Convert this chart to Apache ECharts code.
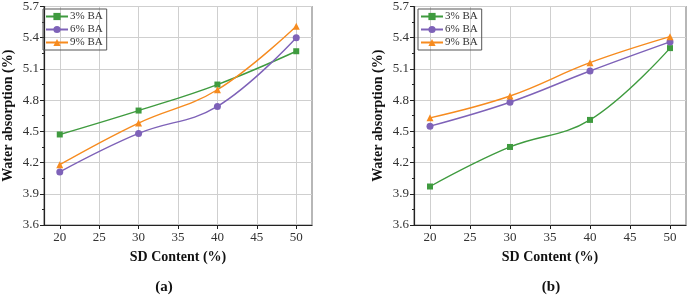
<!DOCTYPE html>
<html>
<head>
<meta charset="utf-8">
<script src="https://cdn.jsdelivr.net/npm/echarts@6/dist/echarts.min.js"></script>
<style>
  html, body { margin: 0; padding: 0; background: #fff; }
  #chart { width: 689px; height: 295px; }
</style>
</head>
<body>
<div id="chart"></div>
<script>
  // SD content (%) on the x axis
  var sdContent = [20, 30, 40, 50]
  var xTicks = [20, 25, 30, 35, 40, 45, 50]
  var seriesNames = ['3% BA', '6% BA', '9% BA']

  // panel (a)
  var a_ba3 = [4.47, 4.70, 4.95, 5.27]
  var a_ba6 = [4.11, 4.48, 4.74, 5.40]
  var a_ba9 = [4.18, 4.58, 4.90, 5.51]

  // panel (b)
  var b_ba3 = [3.97, 4.35, 4.61, 5.30]
  var b_ba6 = [4.55, 4.78, 5.08, 5.36]
  var b_ba9 = [4.63, 4.84, 5.16, 5.41]

  var colors = ['#3f9b3f', '#7e62b8', '#f68b1f']
  var symbols = ['rect', 'circle', 'triangle']
  var font = '"Liberation Serif", "DejaVu Serif", serif'

  function pairs(vals){
    return sdContent.map((x, i) => [x, vals[i]])
  }

  function xAxis(idx){
    return {
      type: 'value', gridIndex: idx, min: 18, max: 52,
      name: 'SD Content (%)', nameLocation: 'middle', nameGap: 25,
      nameTextStyle: { fontFamily: font, fontWeight: 'bold', fontSize: 14, color: '#111' },
      axisLine: { onZero: false, lineStyle: { color: '#222', width: 1.2 } },
      axisTick: { customValues: xTicks, length: 4, lineStyle: { color: '#222' } },
      axisLabel: { customValues: xTicks, fontFamily: font, fontSize: 13, color: '#333', margin: 6 },
      splitLine: { show: true, lineStyle: { color: '#cfcfcf', width: 1 } }
    }
  }

  function yAxis(idx){
    return {
      type: 'value', gridIndex: idx, min: 3.6, max: 5.7, interval: 0.3,
      name: 'Water absorption (%)', nameLocation: 'middle', nameGap: 29,
      nameTextStyle: { fontFamily: font, fontWeight: 'bold', fontSize: 14, color: '#111' },
      axisLine: { lineStyle: { color: '#222', width: 1.2 } },
      axisTick: { length: 4, lineStyle: { color: '#222' } },
      minorTick: { show: true, splitNumber: 2, length: 2, lineStyle: { color: '#222' } },
      axisLabel: { fontFamily: font, fontSize: 13, color: '#333', margin: 5,
        formatter: v => v.toFixed(1) },
      splitLine: { show: true, lineStyle: { color: '#cfcfcf', width: 1 } }
    }
  }

  function legend(left){
    return {
      left: left, top: 9, orient: 'vertical',
      data: seriesNames,
      itemWidth: 22, itemHeight: 9, itemGap: 2,
      padding: [2, 4, 2, 2],
      borderColor: '#555', borderWidth: 1,
      textStyle: { fontFamily: font, fontSize: 11, color: '#333', padding: [0, 0, 0, -3] }
    }
  }

  function lineSeries(name, idx, vals, k){
    return {
      type: 'line', name: name, xAxisIndex: idx, yAxisIndex: idx,
      data: pairs(vals), smooth: 0.4,
      symbol: symbols[k], symbolSize: k == 0 ? 6 : 7,
      itemStyle: { color: colors[k] },
      lineStyle: { color: colors[k], width: 1.4 }
    }
  }

  var chart = echarts.init(document.getElementById('chart'))
  chart.setOption({
    animation: false,
    grid: [
      { left: 39, top: 5, width: 273, height: 220, show: true, borderColor: '#888', borderWidth: 1.2 },
      { left: 414, top: 5, width: 272, height: 220, show: true, borderColor: '#888', borderWidth: 1.2 }
    ],
    xAxis: [xAxis(0), xAxis(1)],
    yAxis: [yAxis(0), yAxis(1)],
    legend: [legend(43), legend(418)],
    series: [
      lineSeries(seriesNames[0], 0, a_ba3, 0),
      lineSeries(seriesNames[1], 0, a_ba6, 1),
      lineSeries(seriesNames[2], 0, a_ba9, 2),
      lineSeries(seriesNames[0], 1, b_ba3, 0),
      lineSeries(seriesNames[1], 1, b_ba6, 1),
      lineSeries(seriesNames[2], 1, b_ba9, 2)
    ],
    graphic: [
      { type: 'text', x: 164, y: 280, style: { text: '(a)', font: 'bold 15px ' + font, fill: '#111', align: 'center' } },
      { type: 'text', x: 551, y: 280, style: { text: '(b)', font: 'bold 15px ' + font, fill: '#111', align: 'center' } }
    ]
  })
</script>
</body>
</html>
